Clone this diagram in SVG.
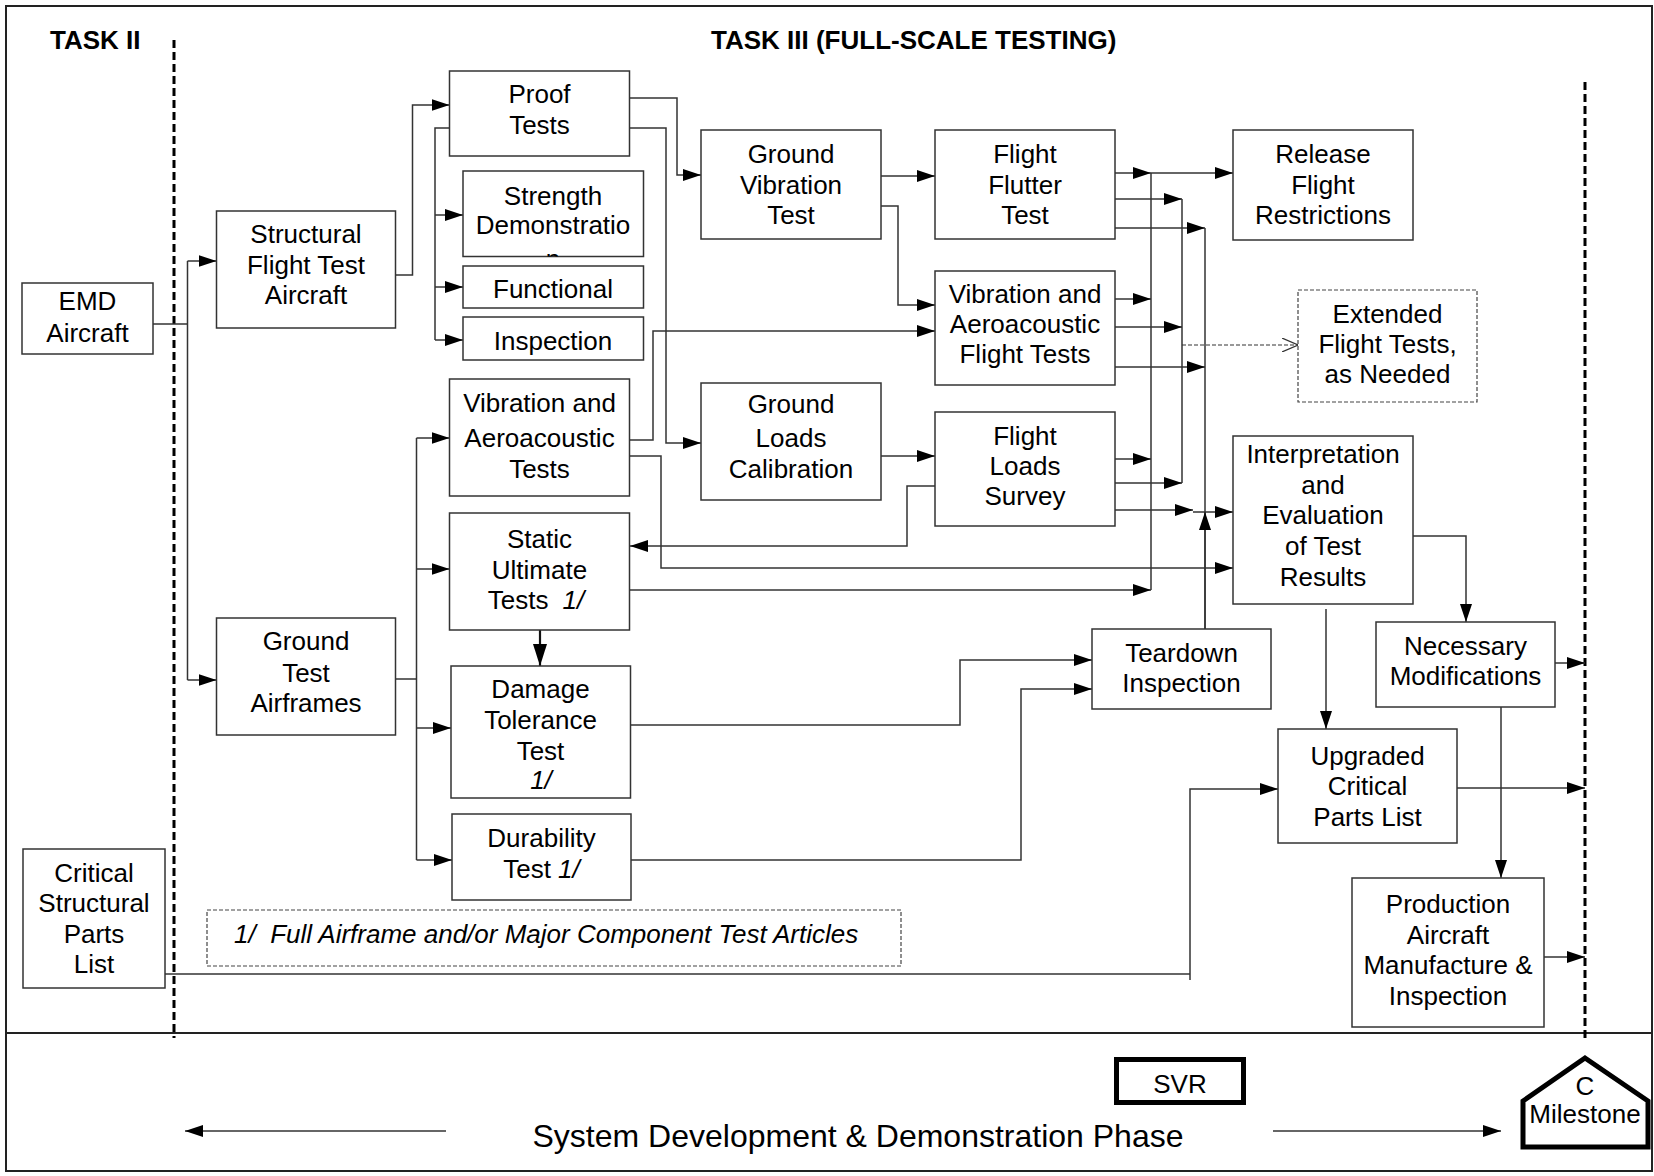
<svg xmlns="http://www.w3.org/2000/svg" width="1654" height="1176" viewBox="0 0 1654 1176">
<style>
.box{fill:#fff;stroke:#333;stroke-width:1.5}
.dbox{fill:#fff;stroke:#444;stroke-width:1.2;stroke-dasharray:4 2}
.t{font-family:"Liberation Sans",Arial,sans-serif;font-size:26px;text-anchor:middle;fill:#000}
.h{font-family:"Liberation Sans",Arial,sans-serif;font-size:26px;font-weight:bold;fill:#000}
.i{font-style:italic}
.c{fill:none;stroke:#333;stroke-width:1.5}
.a{marker-end:url(#ah)}
.div{fill:none;stroke:#000;stroke-width:3;stroke-dasharray:8 4}
</style>
<defs>
<marker id="ah" viewBox="0 0 18 12" refX="18" refY="6" markerWidth="18" markerHeight="12" orient="auto" markerUnits="userSpaceOnUse"><path d="M0,0 L18,6 L0,12 Z" fill="#000"/></marker>
<marker id="ahb" viewBox="0 0 14 22" refX="7" refY="22" markerWidth="14" markerHeight="22" orient="0" markerUnits="userSpaceOnUse"><path d="M0,0 L14,0 L7,22 Z" fill="#000"/></marker>
<marker id="ao" viewBox="0 0 16 14" refX="16" refY="7" markerWidth="16" markerHeight="14" orient="auto" markerUnits="userSpaceOnUse"><path d="M0,0 L16,7 L0,14" fill="none" stroke="#333" stroke-width="1.2"/></marker>
<clipPath id="clipSD"><rect x="463" y="171" width="180.5" height="85.5"/></clipPath>
</defs>

<g id="frame">
<rect x="6" y="6" width="1646" height="1165" fill="#fff" stroke="#222" stroke-width="2"/>
<line x1="6" y1="1033" x2="1652" y2="1033" stroke="#222" stroke-width="2"/>
<line x1="174" y1="40" x2="174" y2="1038" class="div"/>
<line x1="1585" y1="82" x2="1585" y2="1040" class="div"/>
<text x="50" y="49" class="h">TASK II</text>
<text x="711" y="49" class="h">TASK III (FULL-SCALE TESTING)</text>
</g>

<g id="connectors">
<path class="c" d="M153,324 H187.5"/>
<path class="c" d="M187.5,261 V680"/>
<path class="c a" d="M187.5,261 H216.5"/>
<path class="c a" d="M187.5,680 H216.5"/>
<path class="c a" d="M395.5,275 H412.5 V105 H449.5"/>
<path class="c" d="M449.5,128 H435 V340"/>
<path class="c a" d="M435,215 H463"/>
<path class="c a" d="M435,287 H463"/>
<path class="c a" d="M435,340 H463"/>
<path class="c a" d="M629.5,98 H677 V175 H701"/>
<path class="c a" d="M629.5,128 H666 V443 H701"/>
<path class="c a" d="M629.5,440 H653 V331 H935"/>
<path class="c a" d="M629.5,456 H661 V568 H1233"/>
<path class="c a" d="M881,176 H935"/>
<path class="c a" d="M881,206 H898 V305 H935"/>
<path class="c a" d="M881,456 H935"/>
<path class="c a" d="M935,486 H907 V546 H630"/>
<path class="c a" d="M629.5,590 H1151"/>
<path class="c" d="M540,630 V666" style="stroke-width:2.2;stroke:#111" marker-end="url(#ahb)"/>
<path class="c" d="M395.5,679 H416.5"/>
<path class="c" d="M416.5,438 V860"/>
<path class="c a" d="M416.5,438 H449.5"/>
<path class="c a" d="M416.5,569 H449.5"/>
<path class="c a" d="M416.5,728 H451"/>
<path class="c a" d="M416.5,860 H452"/>
<path class="c a" d="M630.5,725 H960 V660 H1092"/>
<path class="c a" d="M631,860 H1021 V689 H1092"/>
<path class="c a" d="M1115,173 H1151"/>
<path class="c a" d="M1151,173 H1233"/>
<path class="c" d="M1151,173 V590"/>
<path class="c a" d="M1115,199 H1182"/>
<path class="c" d="M1182,199 V483"/>
<path class="c a" d="M1115,228 H1205"/>
<path class="c" d="M1205,228 V629"/>
<path class="c a" d="M1115,299 H1151"/>
<path class="c a" d="M1115,327 H1182"/>
<path class="c a" d="M1115,367 H1205"/>
<path class="c" d="M1182,345 H1298" style="stroke-dasharray:4 2;stroke-width:1.2" marker-end="url(#ao)"/>
<path class="c a" d="M1115,459 H1151"/>
<path class="c a" d="M1115,483 H1182"/>
<path class="c a" d="M1115,510 H1193"/>
<path class="c a" d="M1193,512 H1233"/>
<path class="c a" d="M1205,629 V512"/>
<path class="c a" d="M1413,536 H1466 V622"/>
<path class="c a" d="M1326,609 V729"/>
<path class="c a" d="M1555,663 H1585"/>
<path class="c a" d="M1501,707 V878"/>
<path class="c a" d="M1457,788 H1585"/>
<path class="c a" d="M1544,957 H1585"/>
<path class="c" d="M165,974 H1190"/>
<path class="c a" d="M1190,980 V789 H1278"/>
<path class="c a" d="M446,1131 H185"/>
<path class="c a" d="M1273,1131 H1501"/>
</g>

<g id="n-emd"><rect class="box" x="22" y="283" width="131" height="71"/>
<text class="t" x="87.5" y="310">EMD</text><text class="t" x="87.5" y="342">Aircraft</text></g>

<g id="n-sfta"><rect class="box" x="216.5" y="211" width="179" height="117"/>
<text class="t" x="306" y="243">Structural</text><text class="t" x="306" y="274">Flight Test</text><text class="t" x="306" y="304">Aircraft</text></g>

<g id="n-proof"><rect class="box" x="449.5" y="71" width="180" height="85"/>
<text class="t" x="539.5" y="103">Proof</text><text class="t" x="539.5" y="134">Tests</text></g>

<g id="n-strength"><rect class="box" x="463" y="171" width="180.5" height="85.5"/>
<text class="t" x="553" y="205">Strength</text><text class="t" x="553" y="234">Demonstratio</text>
<text class="t" x="553" y="268" clip-path="url(#clipSD)">n</text></g>

<g id="n-functional"><rect class="box" x="463" y="266" width="180.5" height="42"/>
<text class="t" x="553" y="298">Functional</text></g>

<g id="n-inspection"><rect class="box" x="463" y="317" width="180.5" height="43"/>
<text class="t" x="553" y="350">Inspection</text></g>

<g id="n-vat"><rect class="box" x="449.5" y="379" width="180" height="117"/>
<text class="t" x="539.5" y="412">Vibration and</text><text class="t" x="539.5" y="447">Aeroacoustic</text><text class="t" x="539.5" y="478">Tests</text></g>

<g id="n-static"><rect class="box" x="449.5" y="513" width="180" height="117"/>
<text class="t" x="539.5" y="548">Static</text><text class="t" x="539.5" y="579">Ultimate</text>
<text class="t" x="536" y="609">Tests<tspan class="i" dx="14">1/</tspan></text></g>

<g id="n-damage"><rect class="box" x="451" y="666" width="179.5" height="132"/>
<text class="t" x="540.5" y="698">Damage</text><text class="t" x="540.5" y="729">Tolerance</text><text class="t" x="540.5" y="760">Test</text>
<text class="t i" x="541" y="789">1/</text></g>

<g id="n-durability"><rect class="box" x="452" y="814" width="179" height="86"/>
<text class="t" x="541.5" y="847">Durability</text>
<text class="t" x="541.5" y="878">Test <tspan class="i">1/</tspan></text></g>

<g id="n-gta"><rect class="box" x="216.5" y="618" width="179" height="117"/>
<text class="t" x="306" y="650">Ground</text><text class="t" x="306" y="682">Test</text><text class="t" x="306" y="712">Airframes</text></g>

<g id="n-cspl"><rect class="box" x="23" y="849" width="142" height="139"/>
<text class="t" x="94" y="882">Critical</text><text class="t" x="94" y="912">Structural</text><text class="t" x="94" y="943">Parts</text><text class="t" x="94" y="973">List</text></g>

<g id="n-gvt"><rect class="box" x="701" y="130" width="180" height="109"/>
<text class="t" x="791" y="163">Ground</text><text class="t" x="791" y="194">Vibration</text><text class="t" x="791" y="224">Test</text></g>

<g id="n-glc"><rect class="box" x="701" y="383" width="180" height="117"/>
<text class="t" x="791" y="413">Ground</text><text class="t" x="791" y="447">Loads</text><text class="t" x="791" y="478">Calibration</text></g>

<g id="n-fft"><rect class="box" x="935" y="130" width="180" height="109"/>
<text class="t" x="1025" y="163">Flight</text><text class="t" x="1025" y="194">Flutter</text><text class="t" x="1025" y="224">Test</text></g>

<g id="n-vaft"><rect class="box" x="935" y="271" width="180" height="114"/>
<text class="t" x="1025" y="303">Vibration and</text><text class="t" x="1025" y="333">Aeroacoustic</text><text class="t" x="1025" y="363">Flight Tests</text></g>

<g id="n-fls"><rect class="box" x="935" y="412" width="180" height="114"/>
<text class="t" x="1025" y="445">Flight</text><text class="t" x="1025" y="475">Loads</text><text class="t" x="1025" y="505">Survey</text></g>

<g id="n-rfr"><rect class="box" x="1233" y="130" width="180" height="110"/>
<text class="t" x="1323" y="163">Release</text><text class="t" x="1323" y="194">Flight</text><text class="t" x="1323" y="224">Restrictions</text></g>

<g id="n-eft"><rect class="dbox" x="1298" y="290" width="179" height="112"/>
<text class="t" x="1387.5" y="323">Extended</text><text class="t" x="1387.5" y="353">Flight Tests,</text><text class="t" x="1387.5" y="383">as Needed</text></g>

<g id="n-iet"><rect class="box" x="1233" y="436" width="180" height="168"/>
<text class="t" x="1323" y="463">Interpretation</text><text class="t" x="1323" y="494">and</text><text class="t" x="1323" y="524">Evaluation</text><text class="t" x="1323" y="555">of Test</text><text class="t" x="1323" y="586">Results</text></g>

<g id="n-teardown"><rect class="box" x="1092" y="629" width="179" height="80"/>
<text class="t" x="1181.5" y="662">Teardown</text><text class="t" x="1181.5" y="692">Inspection</text></g>

<g id="n-nm"><rect class="box" x="1376" y="622" width="179" height="85"/>
<text class="t" x="1465.5" y="655">Necessary</text><text class="t" x="1465.5" y="685">Modifications</text></g>

<g id="n-ucpl"><rect class="box" x="1278" y="729" width="179" height="114"/>
<text class="t" x="1367.5" y="765">Upgraded</text><text class="t" x="1367.5" y="795">Critical</text><text class="t" x="1367.5" y="826">Parts List</text></g>

<g id="n-prod"><rect class="box" x="1352" y="878" width="192" height="149"/>
<text class="t" x="1448" y="913">Production</text><text class="t" x="1448" y="944">Aircraft</text><text class="t" x="1448" y="974">Manufacture &amp;</text><text class="t" x="1448" y="1005">Inspection</text></g>

<g id="n-note"><rect class="dbox" x="207" y="910" width="694" height="56"/>
<text class="t i" x="234" y="943" style="text-anchor:start">1/&#160; Full Airframe and/or Major Component Test Articles</text></g>

<g id="n-svr"><rect x="1116.5" y="1059.5" width="127" height="43" fill="#fff" stroke="#000" stroke-width="5"/>
<text class="t" x="1180" y="1093">SVR</text></g>

<g id="n-milestone"><path d="M1585,1058 L1648,1101 V1147 H1523 V1101 Z" fill="#fff" stroke="#000" stroke-width="5" stroke-linejoin="miter"/>
<text class="t" x="1585" y="1095">C</text><text class="t" x="1585" y="1123">Milestone</text></g>

<g id="phase"><text class="t" x="858" y="1147" style="font-size:32px">System Development &amp; Demonstration Phase</text></g>
</svg>
